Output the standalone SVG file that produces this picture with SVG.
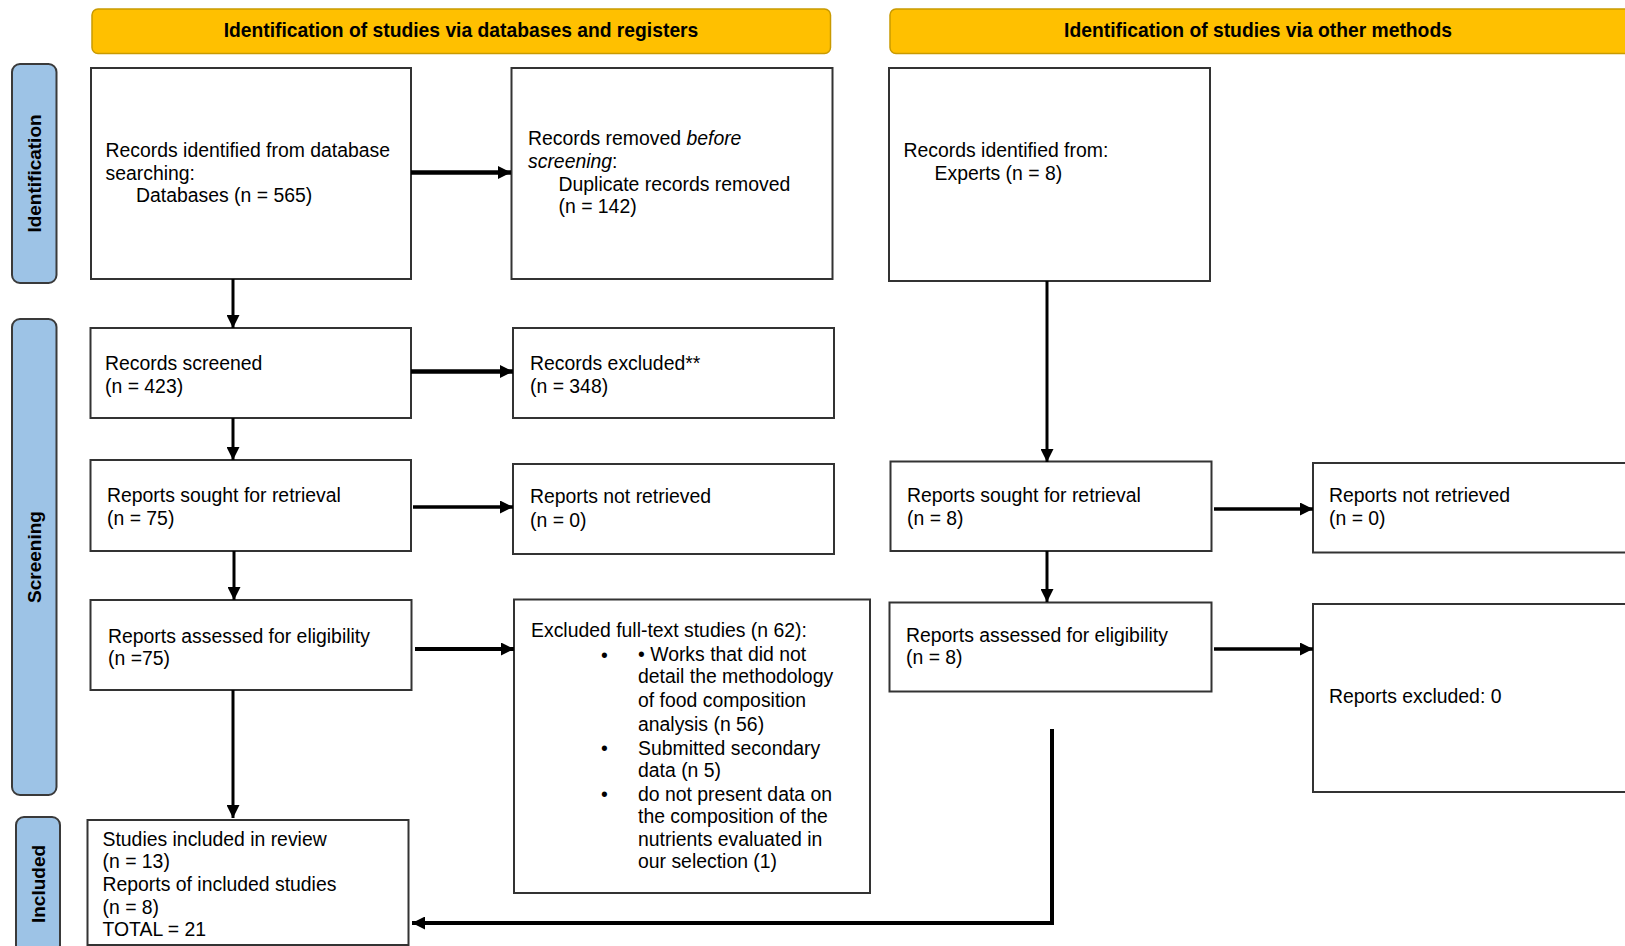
<svg xmlns="http://www.w3.org/2000/svg" width="1625" height="946" viewBox="0 0 1625 946">
<defs>
<style>
.hdr{fill:#FFC000;stroke:#C99A00;stroke-width:1.5}
.hdrt{font-family:"Liberation Sans",Arial,sans-serif;font-weight:bold;font-size:19.3px;fill:#000;text-anchor:middle}
.side{fill:#9DC3E6;stroke:#3A3A3A;stroke-width:2}
.sidet{font-family:"Liberation Sans",Arial,sans-serif;font-weight:bold;font-size:19px;fill:#000;text-anchor:middle}
.box{fill:#fff;stroke:#333;stroke-width:2}
.t{font-family:"Liberation Sans",Arial,sans-serif;font-size:19.4px;fill:#000}
.c{fill:none;stroke:#000}
</style>
<marker id="ah" markerUnits="userSpaceOnUse" markerWidth="14" markerHeight="13" refX="13" refY="6.5" orient="auto">
<path d="M0,0 L13,6.5 L0,13 z" fill="#000"/>
</marker>
</defs>
<rect width="1625" height="946" fill="#fff"/>

<g id="header-databases">
<rect class="hdr" x="92" y="9" width="738.5" height="44.5" rx="6"/>
<text class="hdrt" x="461" y="37">Identification of studies via databases and registers</text>
</g>
<g id="header-other">
<rect class="hdr" x="890" y="9" width="745" height="44.5" rx="6"/>
<text class="hdrt" x="1258" y="37">Identification of studies via other methods</text>
</g>

<g id="phase-identification">
<rect class="side" x="12" y="64" width="44.5" height="219" rx="8"/>
<text class="sidet" transform="translate(41,173.5) rotate(-90)">Identification</text>
</g>
<g id="phase-screening">
<rect class="side" x="12" y="319" width="44.5" height="476" rx="8"/>
<text class="sidet" transform="translate(41,557) rotate(-90)">Screening</text>
</g>
<g id="phase-included">
<rect class="side" x="16" y="817" width="44" height="136" rx="8"/>
<text class="sidet" transform="translate(45,884) rotate(-90)">Included</text>
</g>

<g id="records-identified">
<rect class="box" x="91" y="68" width="320" height="211"/>
<text class="t" x="105.5" y="157">Records identified from database</text>
<text class="t" x="105.5" y="179.5">searching:</text>
<text class="t" x="136" y="202">Databases (n = 565)</text>
</g>
<g id="records-removed">
<rect class="box" x="511.5" y="68" width="321" height="211"/>
<text class="t" x="528" y="145">Records removed <tspan font-style="italic">before</tspan></text>
<text class="t" x="528" y="168"><tspan font-style="italic">screening</tspan>:</text>
<text class="t" x="558.5" y="191">Duplicate records removed</text>
<text class="t" x="558.5" y="213">(n = 142)</text>
</g>
<g id="records-experts">
<rect class="box" x="889" y="68" width="321" height="213"/>
<text class="t" x="903.5" y="157">Records identified from:</text>
<text class="t" x="934.5" y="180">Experts (n = 8)</text>
</g>

<g id="records-screened">
<rect class="box" x="90.5" y="328" width="320.5" height="90"/>
<text class="t" x="105" y="370">Records screened</text>
<text class="t" x="105" y="393">(n = 423)</text>
</g>
<g id="records-excluded">
<rect class="box" x="513" y="328" width="321" height="90"/>
<text class="t" x="530" y="370">Records excluded**</text>
<text class="t" x="530" y="393">(n = 348)</text>
</g>

<g id="reports-sought-db">
<rect class="box" x="90.5" y="460" width="320.5" height="91"/>
<text class="t" x="107" y="502">Reports sought for retrieval</text>
<text class="t" x="107" y="524.5">(n = 75)</text>
</g>
<g id="reports-not-retrieved-db">
<rect class="box" x="513" y="464" width="321" height="90"/>
<text class="t" x="530" y="503">Reports not retrieved</text>
<text class="t" x="530" y="526.5">(n = 0)</text>
</g>
<g id="reports-sought-other">
<rect class="box" x="890.5" y="461.5" width="321" height="89.5"/>
<text class="t" x="907" y="502">Reports sought for retrieval</text>
<text class="t" x="907" y="525">(n = 8)</text>
</g>
<g id="reports-not-retrieved-other">
<rect class="box" x="1313" y="463" width="330" height="89.5"/>
<text class="t" x="1329" y="502">Reports not retrieved</text>
<text class="t" x="1329" y="525">(n = 0)</text>
</g>

<g id="reports-assessed-db">
<rect class="box" x="90.5" y="600" width="321" height="90"/>
<text class="t" x="108" y="643">Reports assessed for eligibility</text>
<text class="t" x="108" y="665">(n =75)</text>
</g>
<g id="excluded-fulltext">
<rect class="box" x="514" y="599.5" width="356" height="293.5"/>
<text class="t" x="531" y="637">Excluded full-text studies (n 62):</text>
<text class="t" x="601" y="662">•</text>
<text class="t" x="638" y="661">• Works that did not</text>
<text class="t" x="638" y="683">detail the methodology</text>
<text class="t" x="638" y="706.5">of food composition</text>
<text class="t" x="638" y="730.5">analysis (n 56)</text>
<text class="t" x="601" y="755">•</text>
<text class="t" x="638" y="755">Submitted secondary</text>
<text class="t" x="638" y="777">data (n 5)</text>
<text class="t" x="601" y="801">•</text>
<text class="t" x="638" y="801">do not present data on</text>
<text class="t" x="638" y="823">the composition of the</text>
<text class="t" x="638" y="845.5">nutrients evaluated in</text>
<text class="t" x="638" y="867.5">our selection (1)</text>
</g>
<g id="reports-assessed-other">
<rect class="box" x="889.5" y="602.5" width="322" height="89"/>
<text class="t" x="906" y="641.5">Reports assessed for eligibility</text>
<text class="t" x="906" y="663.5">(n = 8)</text>
</g>
<g id="reports-excluded-other">
<rect class="box" x="1313" y="604" width="330" height="188"/>
<text class="t" x="1329" y="703">Reports excluded: 0</text>
</g>

<g id="studies-included">
<rect class="box" x="87.5" y="820" width="321" height="125"/>
<text class="t" x="102.5" y="846">Studies included in review</text>
<text class="t" x="102.5" y="868">(n = 13)</text>
<text class="t" x="102.5" y="891">Reports of included studies</text>
<text class="t" x="102.5" y="913.5">(n = 8)</text>
<text class="t" x="102.5" y="935.5">TOTAL = 21</text>
</g>

<g id="connectors">
<line class="c" x1="411" y1="172.5" x2="511" y2="172.5" stroke-width="4.5" marker-end="url(#ah)"/>
<line class="c" x1="411" y1="371.5" x2="513" y2="371.5" stroke-width="4.5" marker-end="url(#ah)"/>
<line class="c" x1="413" y1="507" x2="513" y2="507" stroke-width="3.5" marker-end="url(#ah)"/>
<line class="c" x1="415" y1="649" x2="514" y2="649" stroke-width="4" marker-end="url(#ah)"/>
<line class="c" x1="1214" y1="509" x2="1313" y2="509" stroke-width="3.5" marker-end="url(#ah)"/>
<line class="c" x1="1214" y1="649" x2="1313" y2="649" stroke-width="3.5" marker-end="url(#ah)"/>
<line class="c" x1="233" y1="279" x2="233" y2="328" stroke-width="3" marker-end="url(#ah)"/>
<line class="c" x1="233" y1="418" x2="233" y2="460" stroke-width="3" marker-end="url(#ah)"/>
<line class="c" x1="234" y1="551" x2="234" y2="600" stroke-width="3" marker-end="url(#ah)"/>
<line class="c" x1="233" y1="690" x2="233" y2="818" stroke-width="3" marker-end="url(#ah)"/>
<line class="c" x1="1047" y1="281" x2="1047" y2="462" stroke-width="3" marker-end="url(#ah)"/>
<line class="c" x1="1047" y1="551" x2="1047" y2="602" stroke-width="3" marker-end="url(#ah)"/>
<path class="c" d="M1052,729 V923 H412" stroke-width="4" marker-end="url(#ah)"/>
</g>
</svg>
